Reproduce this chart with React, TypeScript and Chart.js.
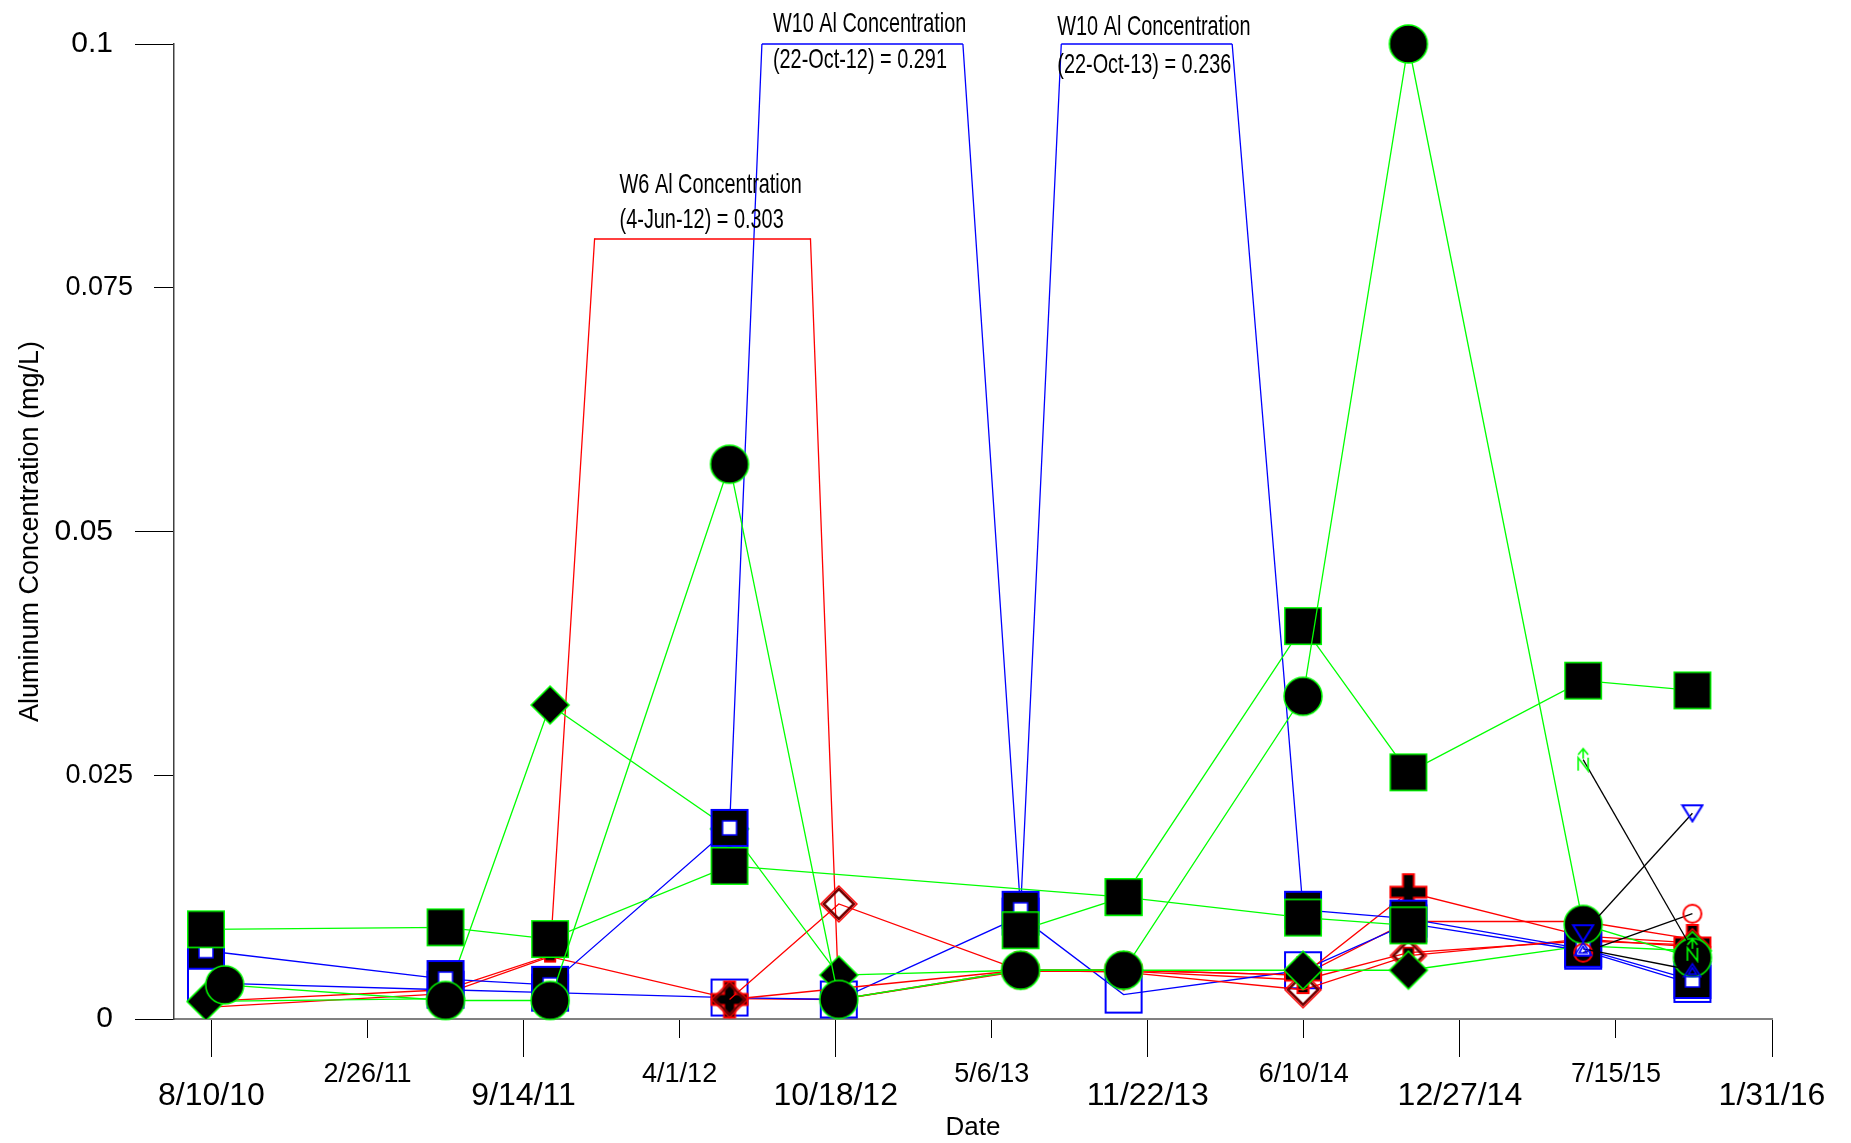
import React, { useEffect, useRef } from 'react';
import { Chart, registerables } from 'chart.js';

Chart.register(...registerables);

const DAY_MS = 86400000;
const toDay = (iso: string) => {
  const [y, m, d] = iso.split('-').map(Number);
  return Date.UTC(y, m - 1, d) / DAY_MS;
};

// Sampling events, one entry per column of values below
const sampleDates = [
  '2010-08-03', '2010-08-27', '2011-06-06', '2011-10-18', '2012-06-04', '2012-10-22',
  '2013-06-12', '2013-10-22', '2014-06-09', '2014-10-22', '2015-06-03', '2015-10-21',
];

// Aluminum concentration by well (mg/L); null = not sampled on that date
const w1 = [0.0092, null, 0.0094, 0.0082, 0.0157, null, null, 0.0125, 0.0104, 0.0096, null, null];
const w2 = [null, null, null, null, null, null, 0.0091, 0.0125, 0.0403, 0.0253, 0.0347, 0.0337];
const w3 = [null, 0.0035, 0.0019, 0.0019, 0.0569, 0.002, 0.005, 0.005, 0.0331, 0.1, 0.0097, 0.0063];
const w4 = [0.0018, null, 0.0021, 0.0322, 0.0195, 0.0045, 0.005, 0.005, 0.005, 0.005, 0.0075, 0.007];
const w5 = [null, null, null, null, 0.002, 0.0118, 0.005, 0.0048, 0.003, 0.0065, 0.0082, 0.0074];
const w6 = [0.0018, null, 0.003, 0.0065, 0.303, 0.002, 0.005, 0.005, 0.0045, 0.01, 0.01, 0.0082];
const w7 = [null, null, null, null, 0.002, null, 0.005, 0.005, 0.0045, 0.013, 0.0085, 0.0078];
const w8 = [0.0012, null, 0.0026, 0.0064, 0.0021, 0.002, 0.0049, 0.0049, 0.004, 0.0068, 0.008, 0.0076];
const w9 = [0.0037, null, 0.003, 0.0027, 0.0022, 0.002, 0.0105, 0.0025, 0.005, 0.0098, 0.007, 0.0036];
const w10 = [0.007, null, 0.0041, 0.0035, 0.0196, 0.291, 0.0112, 0.236, 0.0112, 0.0103, 0.0072, 0.004];
const w11 = [null, null, null, null, null, null, null, null, null, null, 0.0068, 0.0108];
const w12 = [null, null, null, null, null, null, null, null, null, null, 0.0088, 0.0211];
const w13 = [null, null, null, null, null, null, null, null, null, null, 0.0266, 0.0071];
const w14 = [null, null, null, null, null, null, null, null, null, null, 0.0072, 0.005];

// Axis ticks
const majorTickDates = ['2010-08-10', '2011-09-14', '2012-10-18', '2013-11-22', '2014-12-27', '2016-01-31'];
const minorTickDates = ['2011-02-26', '2012-04-01', '2013-05-06', '2014-06-10', '2015-07-15'];
const majorYTicks = [0, 0.05, 0.1];
const minorYTicks = [0.025, 0.075];
const axisStart = '2010-06-23';
const axisEnd = '2016-01-31';
const yMax = 0.1;
const w6Cap = 0.08;

const GREEN = '#00ff00';
const RED = '#ff0000';
const BLUE = '#0000ff';
const SANS = "'Liberation Sans', Arial, Helvetica, sans-serif";
const MONTHS = ['Jan', 'Feb', 'Mar', 'Apr', 'May', 'Jun', 'Jul', 'Aug', 'Sep', 'Oct', 'Nov', 'Dec'];

// Label placement for the off-scale callouts (offsets in px from where the line meets the cap)
const noteOffsets: Record<string, { dx: number; dy1: number; dy2: number }[]> = {
  W6: [{ dx: 25, dy1: -54, dy2: -19 }],
  W10: [{ dx: 11, dy1: -19.5, dy2: 16 }, { dx: -4, dy1: -17, dy2: 21 }],
};

const fmtTick = (v: number) => {
  const d = new Date(v * DAY_MS);
  return `${d.getUTCMonth() + 1}/${d.getUTCDate()}/${String(d.getUTCFullYear()).slice(2)}`;
};
const fmtNoteDate = (iso: string) => {
  const [y, m, d] = iso.split('-').map(Number);
  return `${d}-${MONTHS[m - 1]}-${String(y).slice(2)}`;
};

function markerCanvas(w: number, h: number, paint: (c: CanvasRenderingContext2D) => void) {
  const cv = document.createElement('canvas');
  cv.width = w;
  cv.height = h;
  const c = cv.getContext('2d') as CanvasRenderingContext2D;
  paint(c);
  return cv;
}

function poly(c: CanvasRenderingContext2D, pts: number[][]) {
  c.beginPath();
  c.moveTo(pts[0][0], pts[0][1]);
  for (let i = 1; i < pts.length; i++) c.lineTo(pts[i][0], pts[i][1]);
  c.closePath();
}

function buildMarkers() {
  const bigSquare = markerCanvas(40, 40, (c) => {
    c.fillStyle = '#000';
    c.fillRect(1, 1, 38, 38);
    c.strokeStyle = GREEN;
    c.lineWidth = 1.5;
    c.strokeRect(1.75, 1.75, 36.5, 36.5);
  });
  const disc = markerCanvas(42, 42, (c) => {
    c.beginPath();
    c.arc(21, 21, 19, 0, Math.PI * 2);
    c.fillStyle = '#000';
    c.fill();
    c.strokeStyle = GREEN;
    c.lineWidth = 1.5;
    c.stroke();
  });
  const diamond = markerCanvas(42, 42, (c) => {
    poly(c, [[21, 2], [40, 21], [21, 40], [2, 21]]);
    c.fillStyle = '#000';
    c.fill();
    c.strokeStyle = GREEN;
    c.lineWidth = 1.5;
    c.stroke();
  });
  const ringSquare = markerCanvas(40, 40, (c) => {
    c.fillStyle = '#000';
    c.fillRect(1, 1, 38, 38);
    c.strokeStyle = BLUE;
    c.lineWidth = 2;
    c.strokeRect(2, 2, 36, 36);
    c.fillStyle = '#fff';
    c.fillRect(13, 13, 14, 14);
    c.lineWidth = 1.5;
    c.strokeRect(13, 13, 14, 14);
  });
  const openSquare = markerCanvas(40, 40, (c) => {
    c.strokeStyle = BLUE;
    c.lineWidth = 2;
    c.strokeRect(2, 2, 36, 36);
  });
  const smallSquare = markerCanvas(14, 14, (c) => {
    c.fillStyle = '#000';
    c.fillRect(1, 1, 12, 12);
    c.strokeStyle = RED;
    c.lineWidth = 1.5;
    c.strokeRect(1.75, 1.75, 10.5, 10.5);
  });
  const openDiamond = markerCanvas(40, 40, (c) => {
    poly(c, [[20, 2], [38, 20], [20, 38], [2, 20]]);
    c.strokeStyle = RED;
    c.lineWidth = 1.5;
    c.stroke();
    poly(c, [[20, 5], [35, 20], [20, 35], [5, 20]]);
    c.strokeStyle = '#700000';
    c.lineWidth = 2.5;
    c.stroke();
  });
  const cross = markerCanvas(40, 40, (c) => {
    const a = 14.5;
    const b = 25.5;
    poly(c, [[a, 2], [b, 2], [b, a], [38, a], [38, b], [b, b], [b, 38], [a, 38], [a, b], [2, b], [2, a], [a, a]]);
    c.fillStyle = '#000';
    c.fill();
    c.strokeStyle = RED;
    c.lineWidth = 2;
    c.stroke();
  });
  const ring = markerCanvas(22, 22, (c) => {
    c.beginPath();
    c.arc(11, 11, 9, 0, Math.PI * 2);
    c.strokeStyle = RED;
    c.lineWidth = 2;
    c.stroke();
  });
  const triDown = markerCanvas(24, 20, (c) => {
    poly(c, [[2, 2], [22, 2], [12, 18]]);
    c.strokeStyle = BLUE;
    c.lineWidth = 2;
    c.stroke();
  });
  const triUp = markerCanvas(20, 16, (c) => {
    c.strokeStyle = BLUE;
    c.lineWidth = 1.5;
    poly(c, [[1.5, 14.5], [18.5, 14.5], [10, 1.5]]);
    c.stroke();
    poly(c, [[6, 12], [14, 12], [10, 5.5]]);
    c.stroke();
  });
  const northArrow = markerCanvas(16, 26, (c) => {
    c.strokeStyle = GREEN;
    c.lineWidth = 1.6;
    c.beginPath();
    c.moveTo(3, 8);
    c.lineTo(8, 2);
    c.lineTo(13, 8);
    c.moveTo(8, 2);
    c.lineTo(8, 12);
    c.moveTo(3, 24);
    c.lineTo(3, 11);
    c.lineTo(13, 24);
    c.lineTo(13, 11);
    c.stroke();
  });
  return { bigSquare, disc, diamond, ringSquare, openSquare, smallSquare, openDiamond, cross, ring, triDown, triUp, northArrow };
}

// Clips capped series at their cap level, runs a flat segment along the cap,
// and writes the off-scale value next to it.
const capPlugin = {
  id: 'capLines',
  beforeDatasetDraw(chart: any, args: any) {
    const ds = chart.data.datasets[args.index];
    if (ds.capAt == null) return;
    const { ctx, chartArea } = chart;
    const yCap = chart.scales.y.getPixelForValue(ds.capAt);
    ctx.save();
    ctx.beginPath();
    ctx.rect(chartArea.left - 40, yCap - ds.borderWidth / 2, chartArea.right - chartArea.left + 80, chartArea.bottom - yCap + 80);
    ctx.clip();
  },
  afterDatasetDraw(chart: any, args: any) {
    const ds = chart.data.datasets[args.index];
    if (ds.capAt == null) return;
    chart.ctx.restore();
  },
  afterDatasetsDraw(chart: any) {
    const { ctx } = chart;
    chart.data.datasets.forEach((ds: any, i: number) => {
      if (ds.capAt == null) return;
      const yCap = chart.scales.y.getPixelForValue(ds.capAt);
      const meta = chart.getDatasetMeta(i);
      const pts = meta.data
        .map((p: any, k: number) => ({ p, k }))
        .filter(({ p }: any) => !p.skip && Number.isFinite(p.x) && Number.isFinite(p.y));
      let start: number | null = null;
      let peakK = -1;
      let peakVal = -Infinity;
      let n = 0;
      for (let j = 1; j < pts.length; j++) {
        const a = pts[j - 1].p;
        const b = pts[j].p;
        if (a.y >= yCap && b.y < yCap) {
          start = a.x + ((b.x - a.x) * (a.y - yCap)) / (a.y - b.y);
          peakVal = -Infinity;
        }
        if (b.y < yCap) {
          const v = ds.data[pts[j].k].y;
          if (v > peakVal) {
            peakVal = v;
            peakK = pts[j].k;
          }
        }
        if (a.y < yCap && b.y >= yCap && start != null) {
          const end = a.x + ((b.x - a.x) * (yCap - a.y)) / (b.y - a.y);
          ctx.save();
          ctx.strokeStyle = ds.borderColor;
          ctx.lineWidth = ds.borderWidth;
          ctx.beginPath();
          ctx.moveTo(start, yCap);
          ctx.lineTo(end, yCap);
          ctx.stroke();
          const off = (noteOffsets[ds.label] || [])[n] || { dx: 8, dy1: -18, dy2: 16 };
          const lines = [
            `${ds.label} Al Concentration`,
            `(${fmtNoteDate(sampleDates[peakK])}) = ${peakVal.toFixed(3)}`,
          ];
          ctx.fillStyle = '#000';
          ctx.font = `28px ${SANS}`;
          ctx.textBaseline = 'middle';
          ctx.textAlign = 'left';
          [off.dy1, off.dy2].forEach((dy, li) => {
            ctx.save();
            ctx.translate((start as number) + off.dx, yCap + dy);
            ctx.scale(0.71, 1);
            ctx.fillText(lines[li], 0, 0);
            ctx.restore();
          });
          ctx.restore();
          n++;
          start = null;
        }
      }
    });
  },
};

// Secondary (minor) axes take no layout room; their labels must not be clipped to that empty box.
const zeroSize = (dim: 'width' | 'height') => (s: any) => {
  s[dim] = 0;
  s._computeLabelArea = () => undefined;
};

export default function App() {
  const canvasRef = useRef<HTMLCanvasElement | null>(null);

  useEffect(() => {
    const canvas = canvasRef.current;
    if (!canvas) return;
    const mk = buildMarkers();
    const days = sampleDates.map(toDay);
    const series = [
      { label: 'W13', values: w13, color: '#000', marker: mk.northArrow },
      { label: 'W14', values: w14, color: '#000', marker: mk.triUp },
      { label: 'W12', values: w12, color: '#000', marker: mk.triDown },
      { label: 'W11', values: w11, color: '#000', marker: mk.ring },
      { label: 'W3', values: w3, color: GREEN, marker: mk.disc, clip: false },
      { label: 'W1', values: w1, color: GREEN, marker: mk.bigSquare },
      { label: 'W2', values: w2, color: GREEN, marker: mk.bigSquare },
      { label: 'W10', values: w10, color: BLUE, marker: mk.ringSquare, capAt: yMax },
      { label: 'W4', values: w4, color: GREEN, marker: mk.diamond },
      { label: 'W5', values: w5, color: RED, marker: mk.openDiamond },
      { label: 'W7', values: w7, color: RED, marker: mk.cross },
      { label: 'W9', values: w9, color: BLUE, marker: mk.openSquare },
      { label: 'W6', values: w6, color: RED, marker: mk.smallSquare, capAt: w6Cap },
      { label: 'W8', values: w8, color: RED, marker: mk.smallSquare },
    ];

    const datasets = series.map((s: any) => {
      const ds: any = {
        label: s.label,
        data: s.values.map((v: number | null, i: number) => ({ x: days[i], y: v })),
        borderColor: s.color,
        backgroundColor: s.color,
        borderWidth: 1.3,
        pointStyle: s.marker,
        pointRadius: Math.max(s.marker.width, s.marker.height) / 2,
        pointBorderWidth: 0,
        spanGaps: true,
        tension: 0,
      };
      if (s.clip === false) ds.clip = false;
      if (s.capAt != null) ds.capAt = s.capAt;
      return ds;
    });

    const xMin = toDay(axisStart);
    const xMax = toDay(axisEnd);

    const chart = new Chart(canvas, {
      type: 'line',
      data: { datasets },
      plugins: [capPlugin as any],
      options: {
        animation: false,
        responsive: false,
        devicePixelRatio: 1,
        events: [],
        layout: { padding: { top: 44, right: 79, bottom: 0, left: 0 } },
        plugins: {
          legend: { display: false },
          tooltip: { enabled: false },
        },
        scales: {
          x: {
            type: 'linear',
            position: 'bottom',
            weight: 1,
            min: xMin,
            max: xMax,
            afterBuildTicks: (s: any) => {
              s.ticks = majorTickDates.map((d) => ({ value: toDay(d) }));
            },
            afterFit: (s: any) => {
              s.height = 124;
            },
            ticks: {
              callback: (v: any) => fmtTick(Number(v)),
              autoSkip: false,
              maxRotation: 0,
              minRotation: 0,
              color: '#000',
              padding: 20,
              font: { family: SANS, size: 32 },
            },
            grid: { drawOnChartArea: false, tickLength: 38, tickColor: '#000', tickWidth: 1 },
            border: { display: true, color: '#808080', width: 2 },
            title: {
              display: true,
              text: 'Date',
              color: '#000',
              font: { family: SANS, size: 26 },
              padding: { top: 0, bottom: 0 },
            },
          },
          x2: {
            type: 'linear',
            position: 'bottom',
            weight: 0,
            min: xMin,
            max: xMax,
            afterBuildTicks: (s: any) => {
              s.ticks = minorTickDates.map((d) => ({ value: toDay(d) }));
            },
            afterFit: zeroSize('height'),
            ticks: {
              callback: (v: any) => fmtTick(Number(v)),
              autoSkip: false,
              maxRotation: 0,
              minRotation: 0,
              color: '#000',
              padding: 20,
              font: { family: SANS, size: 27 },
            },
            grid: { drawOnChartArea: false, tickLength: 19, tickColor: '#000', tickWidth: 1 },
            border: { display: false },
          },
          y: {
            type: 'linear',
            position: 'left',
            weight: 1,
            min: 0,
            max: yMax,
            afterBuildTicks: (s: any) => {
              s.ticks = majorYTicks.map((v) => ({ value: v }));
            },
            afterFit: (s: any) => {
              s.width = 174;
            },
            ticks: {
              callback: (v: any) => String(v),
              color: '#000',
              padding: 22,
              font: { family: SANS, size: 30 },
            },
            grid: { drawOnChartArea: false, tickLength: 39, tickColor: '#000', tickWidth: 1 },
            border: { display: true, color: '#404040', width: 1.5 },
            title: {
              display: true,
              text: 'Aluminum Concentration (mg/L)',
              color: '#000',
              font: { family: SANS, size: 27 },
              padding: { top: 14, bottom: 0 },
            },
          },
          y2: {
            type: 'linear',
            position: 'left',
            weight: 0,
            min: 0,
            max: yMax,
            afterBuildTicks: (s: any) => {
              s.ticks = minorYTicks.map((v) => ({ value: v }));
            },
            afterFit: zeroSize('width'),
            ticks: {
              callback: (v: any) => String(v),
              color: '#000',
              padding: 21,
              font: { family: SANS, size: 27 },
            },
            grid: { drawOnChartArea: false, tickLength: 20, tickColor: '#000', tickWidth: 1 },
            border: { display: false },
          },
        },
      } as any,
    });

    return () => {
      chart.destroy();
    };
  }, []);

  return (
    <div style={{ position: 'fixed', left: 0, top: 0, width: 1851, height: 1143, background: '#fff' }}>
      <canvas ref={canvasRef} width={1851} height={1143} style={{ display: 'block' }} />
    </div>
  );
}
